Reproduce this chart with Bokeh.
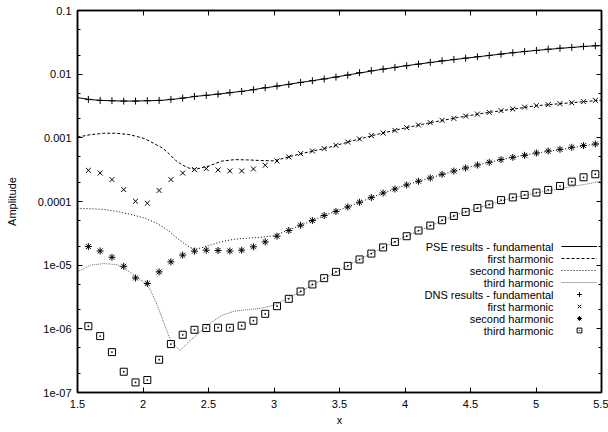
from bokeh.plotting import figure
from bokeh.models import (FixedTicker, LogAxis, LinearAxis, CustomJSTickFormatter,
                          Legend, LegendItem, Label, Range1d)
from bokeh.embed import file_html
from bokeh.resources import INLINE

# ---------------- data ----------------
dns_x = [1.583, 1.673, 1.763, 1.853, 1.943, 2.033, 2.123, 2.213, 2.303, 2.393,
         2.483, 2.573, 2.663, 2.753, 2.843, 2.933, 3.023, 3.113, 3.203, 3.293,
         3.383, 3.473, 3.563, 3.653, 3.743, 3.833, 3.923, 4.013, 4.103, 4.193,
         4.283, 4.373, 4.463, 4.553, 4.643, 4.733, 4.823, 4.913, 5.003, 5.093,
         5.183, 5.273, 5.363, 5.453]
dns_fund = [0.00402, 0.00387, 0.00383, 0.00378, 0.00378, 0.00383, 0.00387, 0.00402, 0.00421, 0.00448,
            0.00465, 0.00486, 0.00512, 0.00536, 0.00570, 0.00612, 0.00650, 0.00691, 0.00743, 0.00788,
            0.00841, 0.00899, 0.00967, 0.01054, 0.01133, 0.0120, 0.01277, 0.01358, 0.01439, 0.01529,
            0.01625, 0.01703, 0.01786, 0.01879, 0.01968, 0.02064, 0.0217, 0.02274, 0.0236, 0.0247,
            0.0256, 0.0263, 0.0273, 0.0279]
dns_h1 = [3.09e-4, 2.80e-4, 2.21e-4, 1.54e-4, 1.01e-4, 9.4e-5, 1.49e-4, 2.21e-4, 2.80e-4, 3.17e-4,
          3.29e-4, 3.13e-4, 3.02e-4, 3.02e-4, 3.24e-4, 3.71e-4, 4.33e-4, 5.00e-4, 5.65e-4, 6.21e-4,
          6.78e-4, 7.63e-4, 8.59e-4, 9.58e-4, 1.083e-3, 1.19e-3, 1.31e-3, 1.445e-3, 1.59e-3, 1.73e-3,
          1.88e-3, 2.02e-3, 2.20e-3, 2.36e-3, 2.51e-3, 2.67e-3, 2.83e-3, 3.04e-3, 3.20e-3, 3.32e-3,
          3.44e-3, 3.56e-3, 3.70e-3, 3.87e-3]
dns_h2 = [1.96e-5, 1.67e-5, 1.33e-5, 9.6e-6, 6.3e-6, 5.16e-6, 7.85e-6, 1.13e-5, 1.44e-5, 1.66e-5,
          1.72e-5, 1.70e-5, 1.67e-5, 1.72e-5, 1.94e-5, 2.32e-5, 2.85e-5, 3.50e-5, 4.24e-5, 5.02e-5,
          6.02e-5, 7.0e-5, 8.22e-5, 9.73e-5, 1.153e-4, 1.36e-4, 1.57e-4, 1.82e-4, 2.08e-4, 2.34e-4,
          2.67e-4, 3.01e-4, 3.36e-4, 3.74e-4, 4.13e-4, 4.55e-4, 4.94e-4, 5.31e-4, 5.78e-4, 6.21e-4,
          6.60e-4, 7.10e-4, 7.55e-4, 8.0e-4]
dns_h3 = [1.10e-6, 7.69e-7, 4.31e-7, 2.12e-7, 1.44e-7, 1.57e-7, 3.27e-7, 5.77e-7, 8.07e-7, 9.66e-7,
          1.03e-6, 1.04e-6, 1.04e-6, 1.12e-6, 1.34e-6, 1.72e-6, 2.27e-6, 2.96e-6, 3.86e-6, 4.98e-6,
          6.25e-6, 7.85e-6, 9.75e-6, 1.23e-5, 1.52e-5, 1.90e-5, 2.32e-5, 2.85e-5, 3.50e-5, 4.19e-5,
          5.08e-5, 5.93e-5, 6.86e-5, 7.9e-5, 9.0e-5, 1.05e-4, 1.16e-4, 1.27e-4, 1.38e-4, 1.52e-4,
          1.75e-4, 2.05e-4, 2.40e-4, 2.68e-4]

pse_x = [1.5, 1.6, 1.7, 1.8, 1.9, 2.0, 2.05, 2.1, 2.15, 2.2, 2.25, 2.28, 2.3, 2.35, 2.4,
         2.5, 2.6, 2.7, 2.8, 2.9, 3.0, 3.2, 3.4, 3.6, 3.8, 4.0, 4.2, 4.4, 4.6, 4.8,
         5.0, 5.2, 5.4, 5.5]
pse_fund = [0.00428, 0.00398, 0.00386, 0.00380, 0.00378, 0.00381, 0.00383, 0.00385, 0.00389, 0.00398,
            0.00408, 0.00413, 0.00419, 0.00432, 0.00448, 0.00468, 0.00493, 0.00522, 0.00553, 0.00597,
            0.00638, 0.00740, 0.00852, 0.0100, 0.0117, 0.0135, 0.0153, 0.0172, 0.0192, 0.0215,
            0.0236, 0.0256, 0.0275, 0.0282]
pse_h1 = [1.03e-3, 1.12e-3, 1.18e-3, 1.18e-3, 1.12e-3, 9.9e-4, 8.9e-4, 7.8e-4, 6.9e-4, 5.6e-4,
          4.4e-4, 4.0e-4, 3.75e-4, 3.35e-4, 3.2e-4, 3.6e-4, 4.3e-4, 4.55e-4, 4.5e-4, 4.4e-4,
          4.35e-4, 5.6e-4, 6.9e-4, 9.0e-4, 1.15e-3, 1.43e-3, 1.74e-3, 2.08e-3, 2.44e-3, 2.78e-3,
          3.19e-3, 3.46e-3, 3.75e-3, 3.9e-3]
pse_h2 = [7.75e-5, 7.7e-5, 7.5e-5, 7.0e-5, 6.3e-5, 5.6e-5, 5.1e-5, 4.6e-5, 4.0e-5, 3.4e-5,
          2.75e-5, 2.5e-5, 2.3e-5, 1.95e-5, 1.77e-5, 2.02e-5, 2.35e-5, 2.56e-5, 2.66e-5, 2.74e-5,
          2.9e-5, 4.2e-5, 6.2e-5, 8.8e-5, 1.28e-4, 1.80e-4, 2.37e-4, 3.12e-4, 3.95e-4, 4.85e-4,
          5.75e-4, 6.6e-4, 7.7e-4, 8.1e-4]
pse_h3 = [7.85e-6, 1.0e-5, 1.06e-5, 1.02e-5, 7.8e-6, 5.5e-6, 4.3e-6, 2.6e-6, 1.4e-6, 7.4e-7,
          5.3e-7, 4.6e-7, 4.9e-7, 6.3e-7, 7.7e-7, 1.17e-6, 1.62e-6, 1.9e-6, 2.0e-6, 2.1e-6,
          2.35e-6, 3.8e-6, 6.4e-6, 1.08e-5, 1.75e-5, 2.8e-5, 4.2e-5, 6.3e-5, 8.4e-5, 1.12e-4,
          1.36e-4, 1.62e-4, 1.9e-4, 2.1e-4]

x_ticks = [1.5, 2.0, 2.5, 3.0, 3.5, 4.0, 4.5, 5.0, 5.5]
x_tick_labels = ["1.5", "2", "2.5", "3", "3.5", "4", "4.5", "5", "5.5"]
y_ticks = [1e-7, 1e-6, 1e-5, 1e-4, 1e-3, 1e-2, 1e-1]
y_tick_labels = ["1e-07", "1e-06", "1e-05", "0.0001", "0.001", "0.01", "0.1"]
y_minor = [2e-7, 5e-7, 2e-6, 5e-6, 2e-5, 5e-5, 2e-4, 5e-4, 2e-3, 5e-3, 2e-2, 5e-2]
legend_labels = ["PSE results - fundamental", "first harmonic", "second harmonic", "third harmonic",
                 "DNS results - fundamental", "first harmonic", "second harmonic", "third harmonic"]

FONT = "Liberation Sans"
FS = "11px"

# ---------------- figure ----------------
p = figure(width=608, height=432, output_backend="svg", toolbar_location=None,
           y_axis_type="log", x_range=Range1d(1.5, 5.5), y_range=Range1d(1e-7, 0.1),
           min_border_left=77, min_border_right=7, min_border_top=10, min_border_bottom=40,
           background_fill_color="white", border_fill_color="white")
p.grid.visible = False
p.outline_line_color = "black"
p.outline_line_width = 1.5

xticker = FixedTicker(ticks=x_ticks)
yticker = FixedTicker(ticks=y_ticks, minor_ticks=y_minor)

xfmt = CustomJSTickFormatter(args=dict(t=x_ticks, l=x_tick_labels), code="""
for (let i = 0; i < t.length; i++) { if (Math.abs(t[i] - tick) < 1e-6) return l[i]; }
return '';""")
yfmt = CustomJSTickFormatter(args=dict(t=y_ticks, l=y_tick_labels), code="""
for (let i = 0; i < t.length; i++) { if (Math.abs(Math.log10(t[i]) - Math.log10(tick)) < 1e-6) return l[i]; }
return '';""")
blank = CustomJSTickFormatter(code="return '';")

def style(ax, minor=True):
    ax.axis_line_width = 1.5
    ax.axis_line_color = "black"
    ax.major_tick_in = 5
    ax.major_tick_out = 0
    ax.minor_tick_in = 3 if minor else 0
    ax.minor_tick_out = 0
    ax.major_tick_line_color = "black"
    ax.minor_tick_line_color = "black"
    ax.major_label_text_font = FONT
    ax.major_label_text_font_size = FS
    ax.major_label_text_color = "black"
    ax.axis_label_text_font = FONT
    ax.axis_label_text_font_size = FS
    ax.axis_label_text_font_style = "normal"
    ax.axis_label_text_color = "black"

xa = p.xaxis[0]
xa.ticker = xticker
xa.formatter = xfmt
style(xa, minor=False)
xa.major_label_standoff = 7
xa.axis_label = "x"
xa.axis_label_standoff = 3

ya = p.yaxis[0]
ya.ticker = yticker
ya.formatter = yfmt
style(ya)
ya.major_label_standoff = 6
ya.axis_label = "Amplitude"
ya.axis_label_standoff = 17

top = LinearAxis(ticker=xticker, formatter=blank)
style(top, minor=False)
top.major_label_text_font_size = "0px"
top.major_label_standoff = 0
p.add_layout(top, "above")

right = LogAxis(ticker=yticker, formatter=blank)
style(right)
right.major_label_text_font_size = "0px"
right.major_label_standoff = 0
p.add_layout(right, "right")

# PSE lines
l0 = p.line(pse_x, pse_fund, line_color="black", line_width=1)
l1 = p.line(pse_x, pse_h1, line_color="black", line_width=1, line_dash="3 2")
l2 = p.line(pse_x, pse_h2, line_color="black", line_width=1, line_dash="1 2")
l3 = p.line(pse_x, pse_h3, line_color="#666666", line_width=1, line_dash="1 1")

# DNS markers
m0 = p.scatter(dns_x, dns_fund, marker="cross", size=7, line_color="black", line_width=1)
m1 = p.scatter(dns_x, dns_h1, marker="x", size=7, line_color="black", line_width=1)
m2 = p.scatter(dns_x, dns_h2, marker="asterisk", size=7, line_color="black", line_width=1)
m3 = p.scatter(dns_x, dns_h3, marker="square_dot", size=7, line_color="black",
               fill_color=None, line_width=1)

renderers = [l0, l1, l2, l3, m0, m1, m2, m3]

# legend: glyph column (labels drawn separately, right-aligned to the left)
ROW = 12
leg_left = 484      # frame px
leg_bottom = 56     # frame px from bottom
leg = Legend(items=[LegendItem(label=" ", renderers=[r]) for r in renderers],
             location=(leg_left, leg_bottom), glyph_width=36, glyph_height=ROW,
             label_height=ROW, label_width=1, spacing=0, padding=0, margin=0,
             label_standoff=0, label_text_font_size="6px",
             border_line_color=None, background_fill_alpha=0)
p.add_layout(leg)

text_right = leg_left - 8
for k, txt in enumerate(legend_labels):
    yk = leg_bottom + ROW * (len(legend_labels) - k) - ROW / 2
    p.add_layout(Label(x=text_right, y=yk, x_units="screen", y_units="screen", text=txt,
                       text_align="right", text_baseline="middle",
                       text_font=FONT, text_font_size=FS, text_color="black"))

open("out.html", "w").write(file_html(p, INLINE))
